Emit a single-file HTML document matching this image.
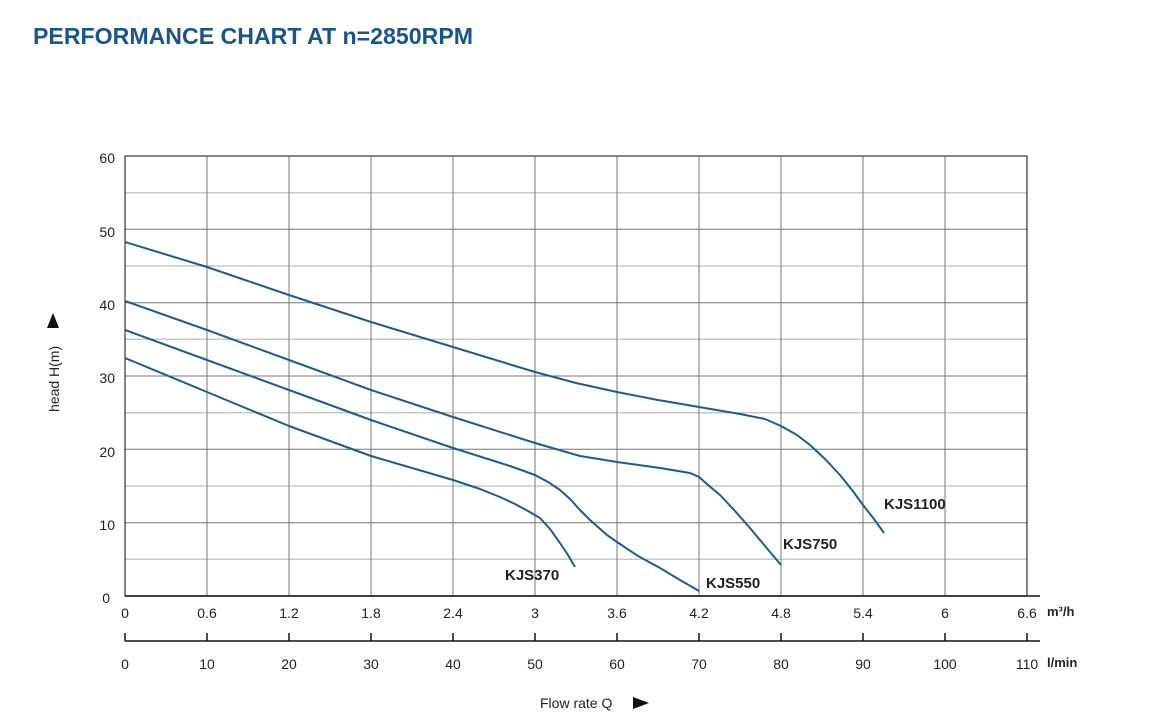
<!DOCTYPE html>
<html><head><meta charset="utf-8"><style>
html,body{margin:0;padding:0;background:#fff;}
svg{display:block;font-family:"Liberation Sans",sans-serif;}
</style></head><body>
<svg width="1163" height="728" viewBox="0 0 1163 728" xmlns="http://www.w3.org/2000/svg">
<rect width="1163" height="728" fill="#fff"/>
<text x="33" y="44" font-size="23" font-weight="bold" fill="#185590" textLength="440" lengthAdjust="spacingAndGlyphs">PERFORMANCE CHART AT n=2850RPM</text>
<g stroke="#c8c8c8" stroke-width="1.5">
<line x1="125" y1="192.7" x2="1027" y2="192.7"/><line x1="125" y1="266" x2="1027" y2="266"/>
<line x1="125" y1="339.3" x2="1027" y2="339.3"/><line x1="125" y1="412.7" x2="1027" y2="412.7"/>
<line x1="125" y1="486" x2="1027" y2="486"/><line x1="125" y1="559.3" x2="1027" y2="559.3"/>
</g>
<g stroke="#777" stroke-width="1">
<line x1="125" y1="229.3" x2="1027" y2="229.3"/><line x1="125" y1="302.7" x2="1027" y2="302.7"/>
<line x1="125" y1="376" x2="1027" y2="376"/><line x1="125" y1="449.3" x2="1027" y2="449.3"/>
<line x1="125" y1="522.7" x2="1027" y2="522.7"/>
<line x1="207" y1="156" x2="207" y2="596"/><line x1="289" y1="156" x2="289" y2="596"/>
<line x1="371" y1="156" x2="371" y2="596"/><line x1="453" y1="156" x2="453" y2="596"/>
<line x1="535" y1="156" x2="535" y2="596"/><line x1="617" y1="156" x2="617" y2="596"/>
<line x1="699" y1="156" x2="699" y2="596"/><line x1="781" y1="156" x2="781" y2="596"/>
<line x1="863" y1="156" x2="863" y2="596"/><line x1="945" y1="156" x2="945" y2="596"/>
</g>
<rect x="125" y="156" width="902" height="440" fill="none" stroke="#333" stroke-width="1.2"/>
<line x1="125" y1="596" x2="1040" y2="596" stroke="#111" stroke-width="1.5"/>
<line x1="125" y1="641" x2="1040" y2="641" stroke="#111" stroke-width="1.5"/>
<g stroke="#111" stroke-width="1.5">
<line x1="125" y1="633" x2="125" y2="641"/><line x1="207" y1="633" x2="207" y2="641"/><line x1="289" y1="633" x2="289" y2="641"/><line x1="371" y1="633" x2="371" y2="641"/><line x1="453" y1="633" x2="453" y2="641"/><line x1="535" y1="633" x2="535" y2="641"/><line x1="617" y1="633" x2="617" y2="641"/><line x1="699" y1="633" x2="699" y2="641"/><line x1="781" y1="633" x2="781" y2="641"/><line x1="863" y1="633" x2="863" y2="641"/><line x1="945" y1="633" x2="945" y2="641"/><line x1="1027" y1="633" x2="1027" y2="641"/>
</g>
<g font-size="14" fill="#222" text-anchor="end">
<text x="115" y="163">60</text><text x="115" y="237">50</text><text x="115" y="310">40</text><text x="115" y="383">30</text><text x="115" y="457">20</text><text x="115" y="530">10</text><text x="110" y="603">0</text>
</g>
<g font-size="14" fill="#222" text-anchor="middle">
<text x="125" y="618">0</text><text x="207" y="618">0.6</text><text x="289" y="618">1.2</text><text x="371" y="618">1.8</text><text x="453" y="618">2.4</text><text x="535" y="618">3</text><text x="617" y="618">3.6</text><text x="699" y="618">4.2</text><text x="781" y="618">4.8</text><text x="863" y="618">5.4</text><text x="945" y="618">6</text><text x="1027" y="618">6.6</text>
<text x="125" y="669">0</text><text x="207" y="669">10</text><text x="289" y="669">20</text><text x="371" y="669">30</text><text x="453" y="669">40</text><text x="535" y="669">50</text><text x="617" y="669">60</text><text x="699" y="669">70</text><text x="781" y="669">80</text><text x="863" y="669">90</text><text x="945" y="669">100</text><text x="1027" y="669">110</text>
</g>
<text x="1047" y="616" font-size="13" font-weight="bold" fill="#222">m³/h</text>
<text x="1047" y="667" font-size="13" font-weight="bold" fill="#222">l/min</text>
<text x="540" y="708" font-size="14" fill="#222">Flow rate Q</text>
<polygon points="633,697 649,703 633,709" fill="#111"/>
<text transform="translate(59,412) rotate(-90)" font-size="14" fill="#222">head H(m)</text>
<polygon points="47,328 53,313 59,328" fill="#111"/>
<g fill="none" stroke="#1d5b92" stroke-width="2" stroke-linejoin="round">
<polyline points="125,242 207,267 289,295 371,322 453,347 535,372 576,383 617,392 658,400 699,407 740,414 765,419 781,426 797,435 810,445 825,459 840,475 852,490 863,505 874,519 884,533"/>
<polyline points="125,301 207,330 289,360 371,390 453,417 535,443 580,456 617,462 660,468 690,473 699,477 708,485 720,495 735,511 750,528 765,546 781,565"/>
<polyline points="125,330 207,360 289,390 371,420 453,448 510,466 535,475 548,482 560,490 570,499 580,510 590,520 598,527 607,535 617,542 638,556 660,568 680,580 699,591"/>
<polyline points="125,358 207,392 289,426 371,456 453,480 480,489 500,497 515,504 528,511 540,518 550,529 560,543 568,555 575,567"/>
</g>
<g font-size="15" font-weight="bold" fill="#222">
<text x="884" y="509">KJS1100</text>
<text x="783" y="549">KJS750</text>
<text x="706" y="588">KJS550</text>
<text x="505" y="580">KJS370</text>
</g>
</svg>
</body></html>
